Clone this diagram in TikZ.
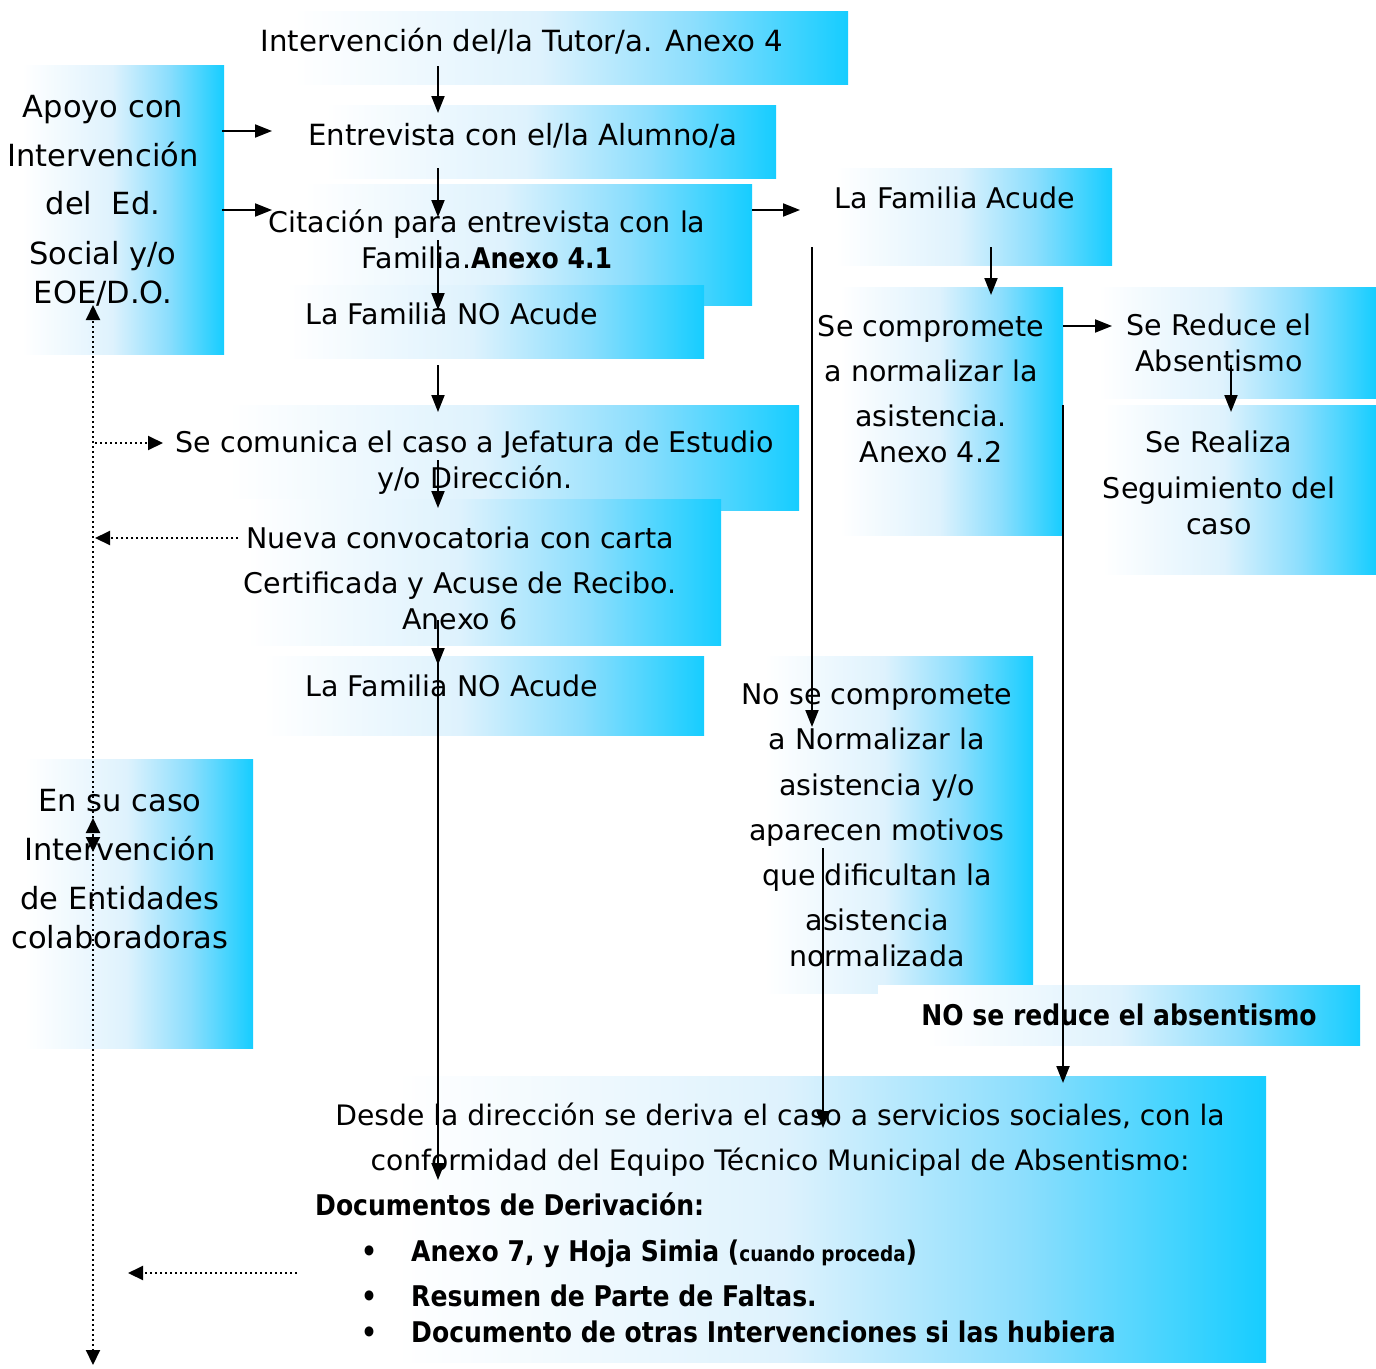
\documentclass[tikz,border=0pt]{standalone}
\usepackage{fontspec}
\setmainfont{DejaVu Sans}
\newfontfamily\bfnarrow[FakeStretch=0.88]{DejaVu Sans Bold}
\usetikzlibrary{arrows.meta}
\definecolor{cyb}{RGB}{22,205,255}
\definecolor{cya}{RGB}{222,242,253}
\definecolor{cym}{RGB}{140,222,253}
\pgfdeclarehorizontalshading{boxshade}{100bp}{color(0bp)=(white); color(25bp)=(white); color(30bp)=(white); color(50bp)=(cya); color(62.5bp)=(cym); color(75bp)=(cyb); color(100bp)=(cyb)}
\newcommand\gbox[5]{\node[gbox, minimum width=\fpeval{#4-#2}pt, minimum height=\fpeval{#5-#3}pt] (#1) at (#2,#3) {};}
\tikzset{
  gbox/.style={anchor=north west, inner sep=0pt, outer sep=0pt, shading=boxshade, draw=none},
  txt/.style={anchor=base, align=center, inner sep=0pt, font=\fontsize{28.5}{36}\selectfont},
  bigtxt/.style={txt, font=\fontsize{29.2}{36}\selectfont},
  sidetxt/.style={txt, font=\fontsize{30.5}{36}\selectfont},
  boldtxt/.style={anchor=base, inner sep=0pt, font=\fontsize{28.5}{36}\bfnarrow},
  arr/.style={line width=2pt, -{Triangle[length=17pt,width=13pt]}},
  dotarr/.style={line width=2pt, dash pattern=on 2pt off 3pt, -{Triangle[length=15pt,width=14pt]}},
  dotboth/.style={line width=2pt, dash pattern=on 2pt off 3pt, {Triangle[length=15pt,width=14pt]}-{Triangle[length=15pt,width=14pt]}}
}
\begin{document}
\begin{tikzpicture}[x=1pt,y=-1pt]
\fill[white] (0,0) rectangle (1376,1368);
\useasboundingbox (0,0) rectangle (1376,1368);
% boxes
\gbox{tutor}{232}{11}{848}{84}
\gbox{entrev}{275}{105}{776}{178}
\gbox{citac}{255}{184}{752}{305}
\gbox{noac1}{240}{285}{704}{358}
\gbox{jefat}{165}{405}{799}{510}
\gbox{nueva}{195}{499}{721}{645}
\gbox{noac2}{215}{656}{704}{735}
\gbox{acude}{805}{168}{1112}{265}
\gbox{reduce}{1068}{287}{1376}{398}
\gbox{realiza}{1072}{405}{1376}{574}
\gbox{compr}{815}{287}{1063}{535}
\gbox{nocompr}{735}{656}{1033}{993}
\gbox{noreduce}{878}{985}{1360}{1045}
\gbox{desde}{300}{1076}{1266}{1362}
\gbox{ensucaso}{0}{759}{253}{1048}
\gbox{apoyo}{0}{65}{224}{354}
% texts
\node[bigtxt] (tTutor) at (522,51) {Intervención del/la Tutor/a. Anexo 4};
\node[sidetxt] (tApoyo) at (103,303) {Apoyo con\\[13pt]Intervención\\[12pt]del\ \ Ed.\\[14pt]Social y/o\\[3pt]EOE/D.O.};
\node[bigtxt] (tEntrev) at (523,145) {Entrevista con el/la Alumno/a};
\node[txt] (tCitac) at (487,268) {Citación para entrevista con la\\Familia.{\bfnarrow Anexo 4.1}};
\node[txt] (tNoac1) at (452,324) {La Familia NO Acude};
\node[txt] (tJefat) at (475,488) {Se comunica el caso a Jefatura de Estudio\\y/o Dirección.};
\node[txt] (tNueva) at (460,629) {Nueva convocatoria con carta\\[9pt]Certificada y Acuse de Recibo.\\Anexo 6};
\node[txt] (tNoac2) at (452,696) {La Familia NO Acude};
\node[txt] (tAcude) at (955,208) {La Familia Acude};
\node[txt] (tCompr) at (931,462) {Se compromete\\[9pt]a normalizar la\\[9pt]asistencia.\\Anexo 4.2};
\node[txt] (tReduce) at (1219,371) {Se Reduce el\\Absentismo};
\node[txt] (tRealiza) at (1219,534) {Se Realiza\\[10pt]Seguimiento del\\caso};
\node[txt] (tNocompr) at (877,966) {No se compromete\\[9pt]a Normalizar la\\[10pt]asistencia y/o\\[9pt]aparecen motivos\\[9pt]que dificultan la\\[9pt]asistencia\\normalizada};
\node[boldtxt] (tNoreduce) at (1119,1025) {NO se reduce el absentismo};
\node[sidetxt] (tEnsucaso) at (120,948) {En su caso\\[13pt]Intervención\\[13pt]de Entidades\\[3pt]colaboradoras};
\node[txt, font=\fontsize{28.2}{36}\selectfont] (tDesde) at (780,1170) {Desde la dirección se deriva el caso a servicios sociales, con la\\[9pt]conformidad del Equipo Técnico Municipal de Absentismo:};
\node[boldtxt, anchor=base west] (tDocs) at (315,1215) {Documentos de Derivación:};
\node[boldtxt, anchor=base west] (tB1) at (361,1261) {•};
\node[boldtxt, anchor=base west] (tB2) at (361,1306) {•};
\node[boldtxt, anchor=base west] (tB3) at (361,1342) {•};
\node[boldtxt, anchor=base west] (tL1) at (411,1261) {Anexo 7, y Hoja Simia ({\fontsize{21}{24}\selectfont cuando proceda})};
\node[boldtxt, anchor=base west] (tL2) at (411,1306) {Resumen de Parte de Faltas.};
\node[boldtxt, anchor=base west] (tL3) at (411,1342) {Documento de otras Intervenciones si las hubiera};
% connector coordinates
\coordinate (p1s) at (438,66);   \coordinate (p1e) at (438,113);
\coordinate (p2s) at (438,168);  \coordinate (p2e) at (438,217);
\coordinate (p3s) at (438,240);  \coordinate (p3e) at (438,310);
\coordinate (p4s) at (438,365);  \coordinate (p4e) at (438,412);
\coordinate (p5s) at (438,460);  \coordinate (p5e) at (438,508);
\coordinate (p6s) at (438,620);  \coordinate (p6e) at (438,665);
\coordinate (p7s) at (438,660);  \coordinate (p7e) at (438,1180);
\coordinate (p8s) at (222,131);  \coordinate (p8e) at (272,131);
\coordinate (p9s) at (222,210);  \coordinate (p9e) at (272,210);
\coordinate (p10s) at (752,210); \coordinate (p10e) at (800,210);
\coordinate (p11s) at (991,247); \coordinate (p11e) at (991,295);
\coordinate (p12s) at (812,247); \coordinate (p12e) at (812,727);
\coordinate (p13s) at (1063,326); \coordinate (p13e) at (1112,326);
\coordinate (p14s) at (1231,365); \coordinate (p14e) at (1231,412);
\coordinate (p15s) at (1063,405); \coordinate (p15e) at (1063,1083);
\coordinate (p16s) at (823,848); \coordinate (p16e) at (823,1128);
\coordinate (d1s) at (93,852);  \coordinate (d1e) at (93,305);
\coordinate (d2s) at (93,1365); \coordinate (d2e) at (93,818);
\coordinate (d3s) at (95,443);  \coordinate (d3e) at (163,443);
\coordinate (d4s) at (238,538); \coordinate (d4e) at (95,538);
\coordinate (d5s) at (297,1273); \coordinate (d5e) at (128,1273);
% connectors
\foreach \i in {1,...,16} {\draw[arr] (p\i s) -- (p\i e);}
\draw[dotboth] (d1s) -- (d1e);
\draw[dotboth] (d2s) -- (d2e);
\draw[dotarr] (d3s) -- (d3e);
\draw[dotarr] (d4s) -- (d4e);
\draw[dotarr] (d5s) -- (d5e);
\end{tikzpicture}
\end{document}
